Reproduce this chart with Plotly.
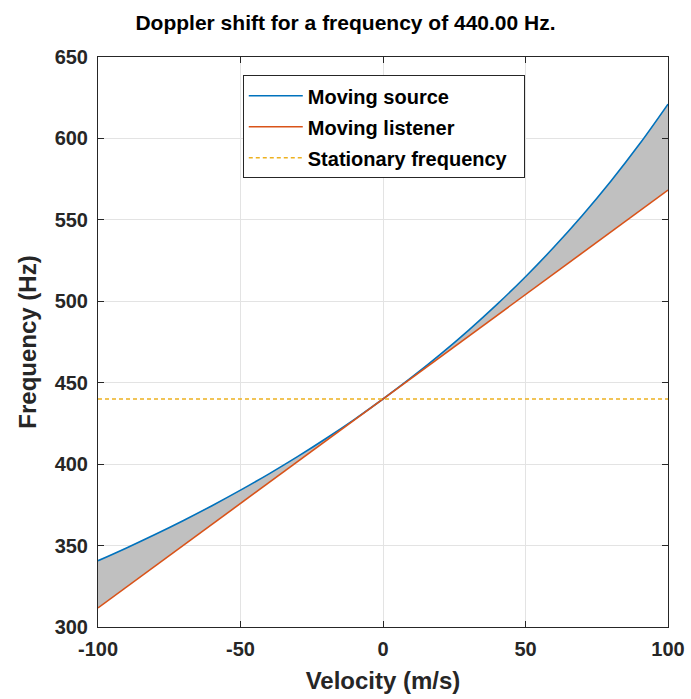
import plotly.graph_objects as go

velocity = [-100, -90, -80, -70, -60, -50, -40, -30, -20, -10, 0,
            10, 20, 30, 40, 50, 60, 70, 80, 90, 100]
moving_source = [340.68, 348.55, 356.78, 365.42, 374.49, 384.02, 394.05, 404.61,
                 415.76, 427.54, 440.00, 453.21, 467.24, 482.17, 498.09, 515.09,
                 533.29, 552.82, 573.84, 596.52, 621.07]
moving_listener = [311.72, 324.55, 337.38, 350.20, 363.03, 375.86, 388.69, 401.52,
                   414.34, 427.17, 440.00, 452.83, 465.66, 478.48, 491.31, 504.14,
                   516.97, 529.80, 542.62, 555.45, 568.28]
stationary = [440.0, 440.0]
stationary_x = [-100, 100]
x_ticks = [-100, -50, 0, 50, 100]
x_tick_labels = ["-100", "-50", "0", "50", "100"]
y_ticks = [300, 350, 400, 450, 500, 550, 600, 650]
y_tick_labels = ["300", "350", "400", "450", "500", "550", "600", "650"]

FONT = "Liberation Sans, Arial, Helvetica, sans-serif"
AX = "#262626"

fig = go.Figure()
fig.add_trace(go.Scatter(
    x=velocity + velocity[::-1],
    y=moving_source + moving_listener[::-1],
    fill="toself", fillcolor="#c0c0c0", line=dict(width=0),
    mode="lines", showlegend=False, hoverinfo="skip"))
fig.add_trace(go.Scatter(x=velocity, y=moving_source, mode="lines",
                         name="Moving source", legendgroup="a",
                         line=dict(color="#0072BD", width=1.6, shape="spline")))
fig.add_trace(go.Scatter(x=velocity, y=moving_listener, mode="lines",
                         name="Moving listener", legendgroup="b",
                         line=dict(color="#D95319", width=1.6)))
fig.add_trace(go.Scatter(x=stationary_x, y=stationary, mode="lines",
                         name="Stationary frequency\u00a0\u00a0", legendgroup="c",
                         line=dict(color="#EDB120", width=1.6, dash="4px,3px")))

axis_common = dict(
    showline=True, linecolor=AX, linewidth=1, mirror="ticks",
    ticks="inside", ticklen=6, tickcolor=AX, tickwidth=1,
    showgrid=True, gridcolor="#e3e3e3", gridwidth=1, zeroline=False,
    automargin=False,
    tickfont=dict(family=FONT, size=20, color=AX, weight="bold"),
)

fig.update_xaxes(range=[-100, 100], tickvals=x_ticks, ticktext=x_tick_labels,
                 ticklabelstandoff=4,
                 title=dict(text="Velocity (m/s)", standoff=13,
                            font=dict(family=FONT, size=24, color=AX, weight="bold")),
                 **axis_common)
fig.update_yaxes(range=[300, 650], tickvals=y_ticks, ticktext=y_tick_labels,
                 ticklabelstandoff=5,
                 title=dict(text="Frequency (Hz)", standoff=11,
                            font=dict(family=FONT, size=24, color=AX, weight="bold")),
                 **axis_common)

fig.update_layout(
    width=691, height=699,
    margin=dict(l=98, r=23, t=57, b=72),
    paper_bgcolor="white", plot_bgcolor="white",
    title=dict(text="Doppler shift for a frequency of 440.00 Hz.",
               x=0.5, xanchor="center", y=0.968, yanchor="middle",
               font=dict(family=FONT, size=21, color="black", weight="bold")),
    legend=dict(x=0.254, y=0.968, xanchor="left", yanchor="top",
                bordercolor=AX, borderwidth=1, bgcolor="white",
                font=dict(family=FONT, size=20, color="black", weight="bold"),
                tracegroupgap=2, itemwidth=54),
    showlegend=True,
)

fig.write_html("out.html")
